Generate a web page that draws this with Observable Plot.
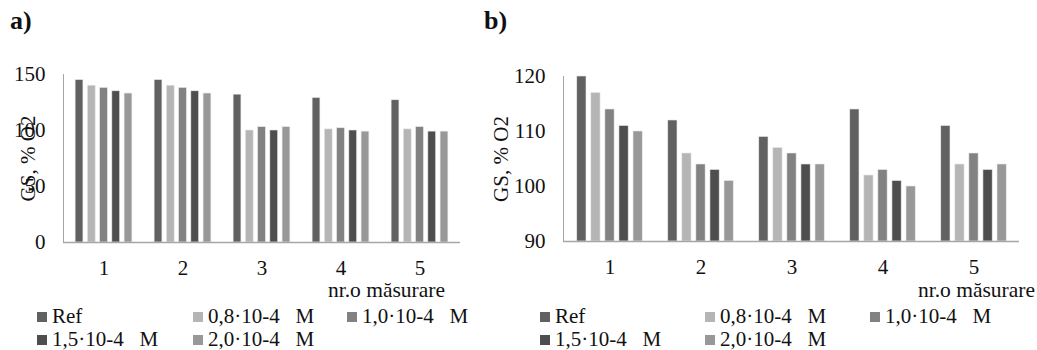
<!DOCTYPE html>
<html><head><meta charset="utf-8">
<script src="https://cdn.jsdelivr.net/npm/d3@7"></script>
<script src="https://cdn.jsdelivr.net/npm/@observablehq/plot@0.6"></script>
<style>
body{margin:0;width:1037px;height:350px;position:relative;background:#fff;font-family:"Liberation Serif",serif;color:#111;overflow:hidden}
.abs{position:absolute}
.lbl{position:absolute;font-weight:bold;font-size:26px;line-height:30px}
.item{position:absolute;font-size:21px;line-height:23px;white-space:pre}
.xl{position:absolute;font-size:21.5px;line-height:23px;white-space:pre;text-align:right}
.sw{display:inline-block;width:10px;height:10px;margin-right:5px;margin-bottom:1px}
</style></head><body>
<div class="lbl" style="left:10px;top:6px">a)</div>
<div class="lbl" style="left:484px;top:6px">b)</div>
<div id="a" class="abs" style="left:0;top:0"></div>
<div id="b" class="abs" style="left:470px;top:0"></div>
<div class="xl" style="right:592px;top:279px">nr.o măsurare</div>
<div class="xl" style="right:2px;top:279px">nr.o măsurare</div>
<div id="legA"></div>
<div id="legB"></div>
<script>
const groups = ["1", "2", "3", "4", "5"];
const series = ["Ref", "0,8·10-4   M", "1,0·10-4   M", "1,5·10-4   M", "2,0·10-4   M"];
const colors = ["#616161", "#b5b5b5", "#828282", "#4e4e4e", "#989898"];

// Chart a
const aRef = [145, 145, 132, 129, 127];
const a08 = [140, 140, 100, 101, 101];
const a10 = [138, 138, 103, 102, 103];
const a15 = [135, 135, 100, 100, 99];
const a20 = [133, 133, 103, 99, 99];
const aTicks = [0, 50, 100, 150];

// Chart b
const bRef = [120, 112, 109, 114, 111];
const b08 = [117, 106, 107, 102, 104];
const b10 = [114, 104, 106, 103, 106];
const b15 = [111, 103, 104, 101, 103];
const b20 = [110, 101, 104, 100, 104];
const bTicks = [90, 100, 110, 120];

function chart(o) {
  const B = (o.width - o.ml - o.mr) / groups.length;
  const inner = d3.scaleBand().domain(d3.range(series.length)).range([0, B]).paddingInner(0.33).paddingOuter(0.908);
  const bw = inner.bandwidth();
  const base = o.ticks[0];
  const marks = o.values.map((vals, i) =>
    Plot.barY(groups, {
      x: d => d, y1: base, y2: (d, j) => vals[j], fill: colors[i],
      stroke: "#e8e8e8", strokeWidth: 0.6,
      insetLeft: inner(i), insetRight: B - inner(i) - bw
    })
  );
  return Plot.plot({
    width: o.width, height: o.height,
    marginLeft: o.ml, marginRight: o.mr, marginTop: o.mt, marginBottom: o.mb,
    style: {fontFamily: "Liberation Serif", fontSize: "21px", color: "#111", background: "transparent"},
    x: {domain: groups, padding: 0, tickSize: 0, tickPadding: 18, label: null},
    y: {domain: [o.ticks[0], o.ticks[o.ticks.length - 1]], ticks: o.ticks, tickSize: 0, tickPadding: 18,
        label: "GS, % O2", labelAnchor: "center", labelOffset: o.lo, labelArrow: "none"},
    marks: [
      ...marks,
      Plot.ruleY([base], {stroke: "#a6a6a6", strokeWidth: 1.6}),
      Plot.frame({anchor: "left", stroke: "#a6a6a6"})
    ]
  });
}

document.getElementById("a").append(chart({width: 480, height: 290, ml: 63, mr: 20, mt: 74, mb: 48, ticks: aTicks, values: [aRef, a08, a10, a15, a20], lo: 43}));
document.getElementById("b").append(chart({width: 567, height: 290, ml: 93, mr: 18, mt: 76, mb: 49, ticks: bTicks, values: [bRef, b08, b10, b15, b20], lo: 70}));

function legend(id, cols) {
  const el = document.getElementById(id);
  const rows = [305, 328];
  series.forEach((s, i) => {
    const d = document.createElement("div");
    d.className = "item";
    d.style.left = cols[i % 3] + "px";
    d.style.top = rows[Math.floor(i / 3)] + "px";
    const sw = document.createElement("span");
    sw.className = "sw";
    sw.style.background = colors[i];
    d.append(sw, document.createTextNode(s));
    el.append(d);
  });
}
legend("legA", [37, 193, 347]);
legend("legB", [540, 705, 870]);
</script>
</body></html>
